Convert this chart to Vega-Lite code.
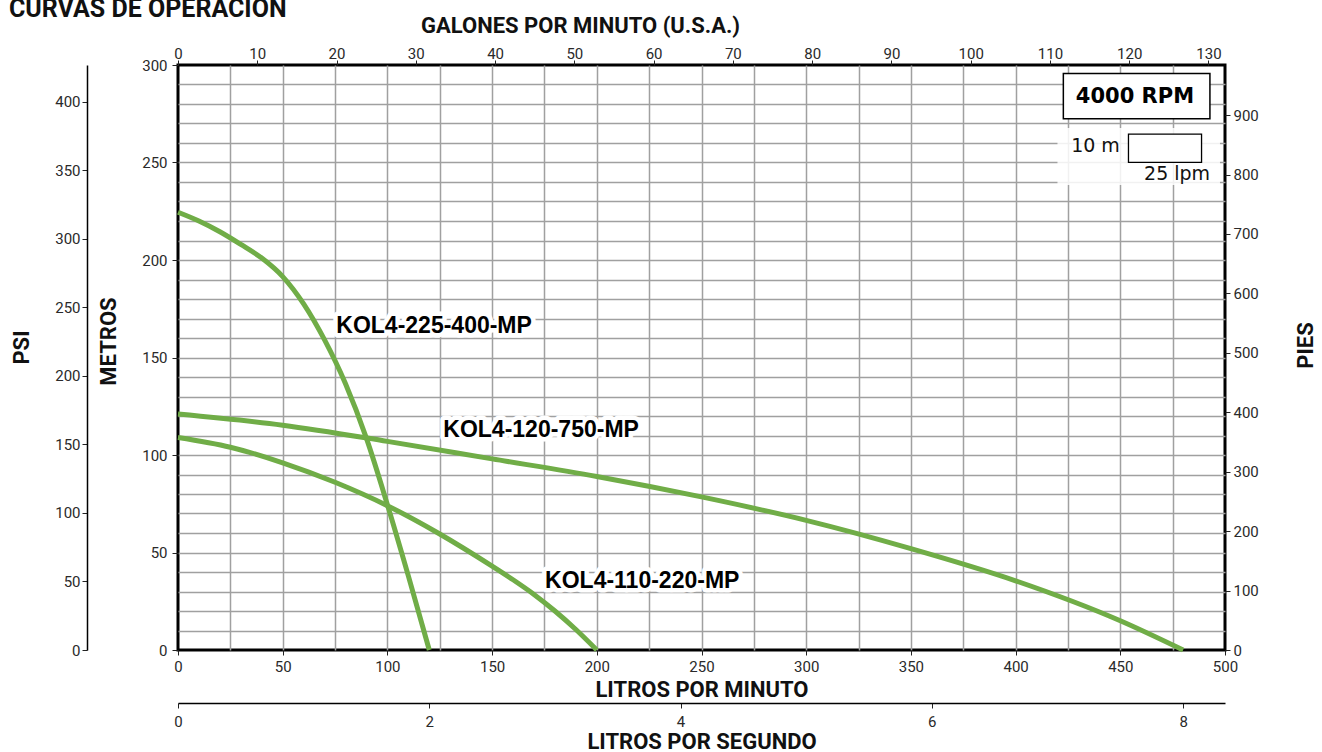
{
  "$schema": "https://vega.github.io/schema/vega-lite/v6.json",
  "width": 1047,
  "height": 585,
  "autosize": {"type": "none"},
  "padding": {"left": 178, "top": 65, "right": 97, "bottom": 102},
  "background": "white",
  "title": {"text": "CURVAS DE OPERACIÓN", "anchor": "start", "frame": "group", "font": "Roboto", "fontSize": 25, "fontWeight": "bold", "color": "#111", "offset": 0, "baseline": "alphabetic", "dx": -169, "dy": 28},
  "config": {
    "view": {"stroke": "#000", "strokeWidth": 3},
    "axis": {"labelFont": "Roboto", "labelFontSize": 15, "labelColor": "#2a2a2a", "titleFont": "Roboto", "titleFontSize": 22, "titleFontWeight": "bold", "titleColor": "#111", "tickColor": "#222", "tickSize": 5, "labelFlush": false, "labelOverlap": false, "domainColor": "#000", "domainWidth": 1.5}
  },
  "datasets": {
    "curvas": [
      {"modelo": "KOL4-225-400-MP", "lpm": 0, "m": 224.5},
      {"modelo": "KOL4-225-400-MP", "lpm": 10, "m": 220},
      {"modelo": "KOL4-225-400-MP", "lpm": 20, "m": 214.5},
      {"modelo": "KOL4-225-400-MP", "lpm": 30, "m": 208},
      {"modelo": "KOL4-225-400-MP", "lpm": 40, "m": 201},
      {"modelo": "KOL4-225-400-MP", "lpm": 50, "m": 191.5},
      {"modelo": "KOL4-225-400-MP", "lpm": 60, "m": 177.5},
      {"modelo": "KOL4-225-400-MP", "lpm": 70, "m": 159},
      {"modelo": "KOL4-225-400-MP", "lpm": 80, "m": 136.5},
      {"modelo": "KOL4-225-400-MP", "lpm": 90, "m": 108.5},
      {"modelo": "KOL4-225-400-MP", "lpm": 100, "m": 74.5},
      {"modelo": "KOL4-225-400-MP", "lpm": 110, "m": 38},
      {"modelo": "KOL4-225-400-MP", "lpm": 120, "m": 0},
      {"modelo": "KOL4-120-750-MP", "lpm": 0, "m": 121},
      {"modelo": "KOL4-120-750-MP", "lpm": 50, "m": 115.3},
      {"modelo": "KOL4-120-750-MP", "lpm": 100, "m": 107},
      {"modelo": "KOL4-120-750-MP", "lpm": 150, "m": 98},
      {"modelo": "KOL4-120-750-MP", "lpm": 200, "m": 89},
      {"modelo": "KOL4-120-750-MP", "lpm": 250, "m": 78.5},
      {"modelo": "KOL4-120-750-MP", "lpm": 300, "m": 66.5},
      {"modelo": "KOL4-120-750-MP", "lpm": 350, "m": 52},
      {"modelo": "KOL4-120-750-MP", "lpm": 400, "m": 35.5},
      {"modelo": "KOL4-120-750-MP", "lpm": 450, "m": 15},
      {"modelo": "KOL4-120-750-MP", "lpm": 480, "m": 0},
      {"modelo": "KOL4-110-220-MP", "lpm": 0, "m": 109},
      {"modelo": "KOL4-110-220-MP", "lpm": 25, "m": 104},
      {"modelo": "KOL4-110-220-MP", "lpm": 50, "m": 96},
      {"modelo": "KOL4-110-220-MP", "lpm": 75, "m": 86},
      {"modelo": "KOL4-110-220-MP", "lpm": 100, "m": 74},
      {"modelo": "KOL4-110-220-MP", "lpm": 125, "m": 59.5},
      {"modelo": "KOL4-110-220-MP", "lpm": 150, "m": 43},
      {"modelo": "KOL4-110-220-MP", "lpm": 160, "m": 36},
      {"modelo": "KOL4-110-220-MP", "lpm": 170, "m": 28.5},
      {"modelo": "KOL4-110-220-MP", "lpm": 180, "m": 20},
      {"modelo": "KOL4-110-220-MP", "lpm": 190, "m": 10.5},
      {"modelo": "KOL4-110-220-MP", "lpm": 200, "m": 0}
    ],
    "etiquetas": [
      {"modelo": "KOL4-225-400-MP", "lpm": 75.6, "m": 162.6},
      {"modelo": "KOL4-120-750-MP", "lpm": 126.7, "m": 109.2},
      {"modelo": "KOL4-110-220-MP", "lpm": 175.3, "m": 32}
    ],
    "fondo_escala": [{"lpm": 420, "lpm2": 497.6, "m": 238.5, "m2": 267.7}],
    "caja_rpm": [{"lpm": 422.8, "lpm2": 492.8, "m": 272.5, "m2": 295.7}],
    "caja_escala": [{"lpm": 453.9, "lpm2": 488.8, "m": 250.1, "m2": 264.6}],
    "texto_rpm": [{"texto": "4000 RPM", "lpm": 457, "m": 280.7}],
    "texto_escala": [
      {"texto": "10 m", "lpm": 449.8, "m": 255.2},
      {"texto": "25 lpm", "lpm": 492.9, "m": 241}
    ],
    "gpm": [{"gpm": 0}, {"gpm": 132.086}],
    "lps": [{"lps": 0}, {"lps": 8.3333}],
    "psi": [{"psi": 0}, {"psi": 426.7}],
    "pies": [{"pies": 0}, {"pies": 984.25}]
  },
  "resolve": {"scale": {"x": "independent", "y": "independent"}, "axis": {"x": "independent", "y": "independent"}},
  "layer": [
    {
      "data": {"name": "fondo_escala"},
      "mark": {"type": "rect", "fill": "white", "opacity": 0.85},
      "encoding": {
        "x": {"field": "lpm", "type": "quantitative", "scale": {"domain": [0, 500], "nice": false, "zero": false},
          "axis": {"orient": "bottom", "values": [0,25,50,75,100,125,150,175,200,225,250,275,300,325,350,375,400,425,450,475,500],
            "labelExpr": "datum.value % 50 === 0 ? datum.label : ''",
            "tickOpacity": {"condition": {"test": "datum.value % 50 === 0", "value": 1}, "value": 0},
            "grid": true, "gridColor": "#a0a0a0", "gridWidth": 1.5,
            "gridOpacity": {"condition": {"test": "datum.value === 0 || datum.value === 500", "value": 0}, "value": 1},
            "domain": false, "tickSize": 5, "labelPadding": 4,
            "title": "LITROS POR MINUTO", "titleBaseline": "alphabetic", "titleY": 46}},
        "x2": {"field": "lpm2"},
        "y": {"field": "m", "type": "quantitative", "scale": {"domain": [0, 300], "nice": false, "zero": false},
          "axis": {"orient": "left", "values": [0,10,20,30,40,50,60,70,80,90,100,110,120,130,140,150,160,170,180,190,200,210,220,230,240,250,260,270,280,290,300],
            "labelExpr": "datum.value % 50 === 0 ? datum.label : ''",
            "tickOpacity": {"condition": {"test": "datum.value % 50 === 0", "value": 1}, "value": 0},
            "grid": true, "gridColor": "#a0a0a0", "gridWidth": 1.5,
            "gridOpacity": {"condition": {"test": "datum.value === 0 || datum.value === 300", "value": 0}, "value": 1},
            "domain": false, "tickSize": 6, "labelPadding": 5,
            "title": "METROS", "titleAngle": 270, "titleBaseline": "alphabetic", "titleAlign": "center", "titleX": -63, "titleY": 276}},
        "y2": {"field": "m2"}
      }
    },
    {
      "data": {"name": "curvas"},
      "mark": {"type": "line", "color": "#70ad47", "strokeWidth": 5, "interpolate": "monotone"},
      "encoding": {
        "x": {"field": "lpm", "type": "quantitative", "scale": {"domain": [0, 500], "nice": false, "zero": false}, "axis": null},
        "y": {"field": "m", "type": "quantitative", "scale": {"domain": [0, 300], "nice": false, "zero": false}, "axis": null},
        "detail": {"field": "modelo"}
      }
    },
    {
      "data": {"name": "etiquetas"},
      "mark": {"type": "text", "align": "left", "baseline": "alphabetic", "font": "Liberation Sans", "fontSize": 23, "fontWeight": "bold", "fill": "white", "stroke": "white", "strokeWidth": 9, "strokeJoin": "round"},
      "encoding": {
        "x": {"field": "lpm", "type": "quantitative", "scale": {"domain": [0, 500], "nice": false, "zero": false}, "axis": null},
        "y": {"field": "m", "type": "quantitative", "scale": {"domain": [0, 300], "nice": false, "zero": false}, "axis": null},
        "text": {"field": "modelo"}
      }
    },
    {
      "data": {"name": "etiquetas"},
      "mark": {"type": "text", "align": "left", "baseline": "alphabetic", "font": "Liberation Sans", "fontSize": 23, "fontWeight": "bold", "color": "#000"},
      "encoding": {
        "x": {"field": "lpm", "type": "quantitative", "scale": {"domain": [0, 500], "nice": false, "zero": false}, "axis": null},
        "y": {"field": "m", "type": "quantitative", "scale": {"domain": [0, 300], "nice": false, "zero": false}, "axis": null},
        "text": {"field": "modelo"}
      }
    },
    {
      "data": {"name": "caja_rpm"},
      "mark": {"type": "rect", "fill": "white", "stroke": "#000", "strokeWidth": 1.5},
      "encoding": {
        "x": {"field": "lpm", "type": "quantitative", "scale": {"domain": [0, 500], "nice": false, "zero": false}, "axis": null},
        "x2": {"field": "lpm2"},
        "y": {"field": "m", "type": "quantitative", "scale": {"domain": [0, 300], "nice": false, "zero": false}, "axis": null},
        "y2": {"field": "m2"}
      }
    },
    {
      "data": {"name": "caja_escala"},
      "mark": {"type": "rect", "fill": "white", "stroke": "#000", "strokeWidth": 1.3},
      "encoding": {
        "x": {"field": "lpm", "type": "quantitative", "scale": {"domain": [0, 500], "nice": false, "zero": false}, "axis": null},
        "x2": {"field": "lpm2"},
        "y": {"field": "m", "type": "quantitative", "scale": {"domain": [0, 300], "nice": false, "zero": false}, "axis": null},
        "y2": {"field": "m2"}
      }
    },
    {
      "data": {"name": "texto_rpm"},
      "mark": {"type": "text", "align": "center", "baseline": "alphabetic", "font": "DejaVu Sans", "fontSize": 21, "fontWeight": "bold", "color": "#000"},
      "encoding": {
        "x": {"field": "lpm", "type": "quantitative", "scale": {"domain": [0, 500], "nice": false, "zero": false}, "axis": null},
        "y": {"field": "m", "type": "quantitative", "scale": {"domain": [0, 300], "nice": false, "zero": false}, "axis": null},
        "text": {"field": "texto"}
      }
    },
    {
      "data": {"name": "texto_escala"},
      "mark": {"type": "text", "align": "right", "baseline": "alphabetic", "font": "DejaVu Sans", "fontSize": 19, "color": "#111"},
      "encoding": {
        "x": {"field": "lpm", "type": "quantitative", "scale": {"domain": [0, 500], "nice": false, "zero": false}, "axis": null},
        "y": {"field": "m", "type": "quantitative", "scale": {"domain": [0, 300], "nice": false, "zero": false}, "axis": null},
        "text": {"field": "texto"}
      }
    },
    {
      "data": {"name": "gpm"},
      "mark": {"type": "point", "opacity": 0},
      "encoding": {
        "x": {"field": "gpm", "type": "quantitative", "scale": {"domain": [0, 132.086], "nice": false, "zero": false},
          "axis": {"orient": "top", "values": [0,10,20,30,40,50,60,70,80,90,100,110,120,130], "domain": false, "grid": false, "tickSize": 5, "labelPadding": 1.7, "labelBaseline": "alphabetic",
            "title": "GALONES POR MINUTO (U.S.A.)", "titleBaseline": "alphabetic", "titleAlign": "center", "titleX": 402, "titleY": -33}}
      }
    },
    {
      "data": {"name": "lps"},
      "mark": {"type": "point", "opacity": 0},
      "encoding": {
        "x": {"field": "lps", "type": "quantitative", "scale": {"domain": [0, 8.3333], "nice": false, "zero": false},
          "axis": {"orient": "bottom", "offset": 53, "values": [0,2,4,6,8], "domain": true, "grid": false, "tickSize": 5, "labelPadding": 6,
            "title": "LITROS POR SEGUNDO", "titleBaseline": "alphabetic", "titleY": 45}}
      }
    },
    {
      "data": {"name": "psi"},
      "mark": {"type": "point", "opacity": 0},
      "encoding": {
        "y": {"field": "psi", "type": "quantitative", "scale": {"domain": [0, 426.7], "nice": false, "zero": false},
          "axis": {"orient": "left", "offset": 91, "values": [0,50,100,150,200,250,300,350,400], "domain": true, "grid": false, "tickSize": 5, "labelPadding": 2,
            "title": "PSI", "titleAngle": 270, "titleBaseline": "alphabetic", "titleAlign": "center", "titleX": -59, "titleY": 282}}
      }
    },
    {
      "data": {"name": "pies"},
      "mark": {"type": "point", "opacity": 0},
      "encoding": {
        "y": {"field": "pies", "type": "quantitative", "scale": {"domain": [0, 984.25], "nice": false, "zero": false},
          "axis": {"orient": "right", "values": [0,100,200,300,400,500,600,700,800,900], "domain": false, "grid": false, "tickSize": 5, "labelPadding": 3,
            "title": "PIES", "titleAngle": 270, "titleBaseline": "alphabetic", "titleAlign": "center", "titleX": 87, "titleY": 280}}
      }
    }
  ]
}
